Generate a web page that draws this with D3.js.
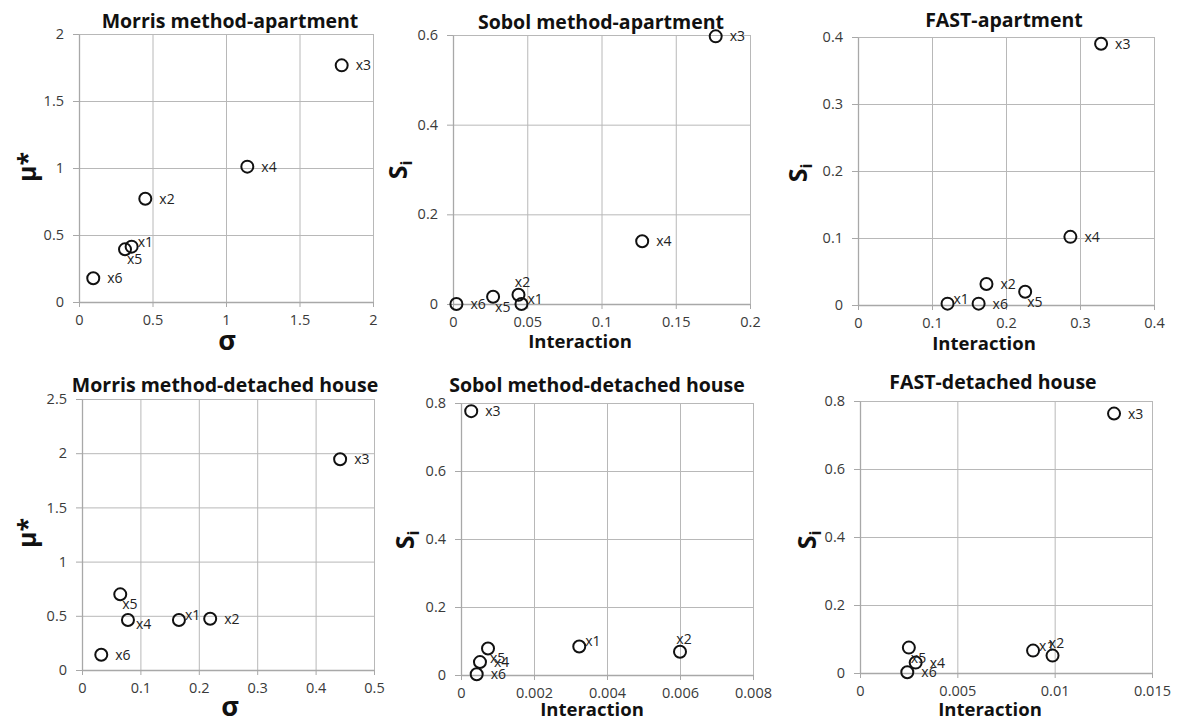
<!DOCTYPE html>
<html>
<head>
<meta charset="utf-8">
<script src="https://cdn.jsdelivr.net/npm/d3@7/dist/d3.min.js"></script>
<style>
  body { margin: 0; background: #fff; }
  svg text { font-family: "Open Sans", "DejaVu Sans", sans-serif; }
</style>
</head>
<body>
<svg id="chart" width="1177" height="724"></svg>
<script>
// variable names (same order in every panel)
const varNames = ["x1", "x2", "x3", "x4", "x5", "x6"];

// Morris method - apartment
const morrisAptSigma = [0.358, 0.451, 1.787, 1.145, 0.313, 0.097];
const morrisAptMu    = [0.413, 0.771, 1.766, 1.01, 0.393, 0.177];
// Sobol method - apartment
const sobolAptInter = [0.0461, 0.0441, 0.1769, 0.1274, 0.027, 0.0023];
const sobolAptSi    = [0.0, 0.0207, 0.597, 0.140, 0.0163, 0.0];
// FAST - apartment
const fastAptInter = [0.121, 0.1736, 0.3285, 0.287, 0.2259, 0.163];
const fastAptSi    = [0.002, 0.0313, 0.390, 0.1017, 0.0198, 0.002];
// Morris method - detached house
const morrisDetSigma = [0.166, 0.2195, 0.442, 0.0787, 0.0655, 0.033];
const morrisDetMu    = [0.461, 0.473, 1.944, 0.461, 0.698, 0.141];
// Sobol method - detached house
const sobolDetInter = [0.00324, 0.0060, 0.00028, 0.00052, 0.00074, 0.00043];
const sobolDetSi    = [0.084, 0.0685, 0.776, 0.038, 0.078, 0.002];
// FAST - detached house
const fastDetInter = [0.00889, 0.00989, 0.01305, 0.00286, 0.00251, 0.00243];
const fastDetSi    = [0.0659, 0.0512, 0.763, 0.0306, 0.0747, 0.002];

// tick values
const morrisAptTicksX = [0, 0.5, 1, 1.5, 2];
const morrisAptTicksY = [0, 0.5, 1, 1.5, 2];
const sobolAptTicksX = [0, 0.05, 0.1, 0.15, 0.2];
const sobolAptTicksY = [0, 0.2, 0.4, 0.6];
const fastAptTicksX = [0, 0.1, 0.2, 0.3, 0.4];
const fastAptTicksY = [0, 0.1, 0.2, 0.3, 0.4];
const morrisDetTicksX = [0, 0.1, 0.2, 0.3, 0.4, 0.5];
const morrisDetTicksY = [0, 0.5, 1, 1.5, 2, 2.5];
const sobolDetTicksX = [0, 0.002, 0.004, 0.006, 0.008];
const sobolDetTicksY = [0, 0.2, 0.4, 0.6, 0.8];
const fastDetTicksX = [0, 0.005, 0.01, 0.015];
const fastDetTicksY = [0, 0.2, 0.4, 0.6, 0.8];

// where each point label sits relative to its marker
const spots = {
  r:  {dx: 14, dy: 5,  anchor: "start"},
  ur: {dx: 6,  dy: 0,  anchor: "start"},
  br: {dx: 2,  dy: 15, anchor: "start"},
  t:  {dx: 4,  dy: -8, anchor: "middle"},
  rr: {dx: 8,  dy: 9,  anchor: "start"}
};

const panels = [
  {title: "Morris method-apartment", xs: morrisAptSigma, ys: morrisAptMu,
   tx: morrisAptTicksX, ty: morrisAptTicksY, xLabel: "σ", yLabel: "mu",
   box: [79, 34, 373, 302], titleAt: [230, 28], xLabAt: [227, 350], yLabAt: [27, 167],
   labels: ["ur", "r", "r", "r", "br", "r"]},
  {title: "Sobol method-apartment", xs: sobolAptInter, ys: sobolAptSi,
   tx: sobolAptTicksX, ty: sobolAptTicksY, xLabel: "Interaction", yLabel: "si",
   box: [453, 35, 750, 304], titleAt: [601, 29], xLabAt: [580, 348], yLabAt: [398, 170],
   labels: ["ur", "t", "r", "r", "br", "r"]},
  {title: "FAST-apartment", xs: fastAptInter, ys: fastAptSi,
   tx: fastAptTicksX, ty: fastAptTicksY, xLabel: "Interaction", yLabel: "si",
   box: [858, 37, 1154, 305], titleAt: [1004, 27], xLabAt: [984, 350], yLabAt: [798, 173],
   labels: ["ur", "r", "r", "r", "br", "r"]},
  {title: "Morris method-detached house", xs: morrisDetSigma, ys: morrisDetMu,
   tx: morrisDetTicksX, ty: morrisDetTicksY, xLabel: "σ", yLabel: "mu",
   box: [82, 399, 374, 670], titleAt: [225, 392], xLabAt: [230, 716], yLabAt: [27, 533],
   labels: ["ur", "r", "r", "rr", "br", "r"]},
  {title: "Sobol method-detached house", xs: sobolDetInter, ys: sobolDetSi,
   tx: sobolDetTicksX, ty: sobolDetTicksY, xLabel: "Interaction", yLabel: "si",
   box: [461, 403, 753, 675], titleAt: [597, 392], xLabAt: [592, 716], yLabAt: [405, 540],
   labels: ["ur", "t", "r", "r", "br", "r"]},
  {title: "FAST-detached house", xs: fastDetInter, ys: fastDetSi,
   tx: fastDetTicksX, ty: fastDetTicksY, xLabel: "Interaction", yLabel: "si",
   box: [860, 401, 1152, 673], titleAt: [993, 389], xLabAt: [990, 716], yLabAt: [807, 540],
   labels: ["ur", "t", "r", "r", "br", "r"]}
];

const svg = d3.select("#chart");
const gridColor = "#b8b8b8";
const fmt = d => String(d);

panels.forEach(p => {
  const [x0, y0, x1, y1] = p.box;
  const x = d3.scaleLinear().domain(d3.extent(p.tx)).range([x0, x1]);
  const y = d3.scaleLinear().domain(d3.extent(p.ty)).range([y1, y0]);
  const g = svg.append("g");

  // gridlines
  g.append("g").attr("transform", `translate(0,${y1})`)
    .call(d3.axisBottom(x).tickValues(p.tx).tickSize(-(y1 - y0)).tickFormat(""))
    .call(a => a.select(".domain").remove())
    .selectAll("line").attr("stroke", gridColor);
  g.append("g").attr("transform", `translate(${x0},0)`)
    .call(d3.axisLeft(y).tickValues(p.ty).tickSize(-(x1 - x0)).tickFormat(""))
    .call(a => a.select(".domain").remove())
    .selectAll("line").attr("stroke", gridColor);

  // axes with short outer ticks
  const xa = g.append("g").attr("transform", `translate(0,${y1})`)
    .call(d3.axisBottom(x).tickValues(p.tx).tickSize(5).tickSizeOuter(0).tickPadding(8).tickFormat(fmt));
  const ya = g.append("g").attr("transform", `translate(${x0},0)`)
    .call(d3.axisLeft(y).tickValues(p.ty).tickSize(6).tickSizeOuter(0).tickPadding(9).tickFormat(fmt));
  [xa, ya].forEach(a => {
    a.select(".domain").attr("stroke", "#a8a8a8").attr("stroke-width", 1.3);
    a.selectAll("line").attr("stroke", "#a8a8a8");
    a.selectAll("text").attr("fill", "#3a3a3a").style("font-size", "14.5px");
  });

  // title
  g.append("text").attr("x", p.titleAt[0]).attr("y", p.titleAt[1])
    .attr("text-anchor", "middle").style("font-size", "19.5px").style("font-weight", "bold")
    .attr("fill", "#111").text(p.title);

  // x axis title
  g.append("text").attr("x", p.xLabAt[0]).attr("y", p.xLabAt[1])
    .attr("text-anchor", "middle").style("font-weight", "bold").attr("fill", "#111")
    .style("font-size", p.xLabel === "σ" ? "27px" : "18.5px").text(p.xLabel);

  // y axis title
  const yt = g.append("text")
    .attr("transform", `translate(${p.yLabAt[0]},${p.yLabAt[1]}) rotate(-90)`)
    .attr("text-anchor", "middle").attr("dy", "0.35em")
    .style("font-weight", "bold").attr("fill", "#111");
  if (p.yLabel === "mu") {
    yt.style("font-size", "25px").text("μ*");
  } else {
    yt.style("font-size", "25px");
    yt.append("tspan").text("S");
    yt.append("tspan").attr("dy", "0.3em").style("font-size", "16px").text("i");
  }

  // points
  const pts = varNames.map((n, i) => ({name: n, x: p.xs[i], y: p.ys[i], spot: spots[p.labels[i]]}));
  g.selectAll("circle").data(pts).enter().append("circle")
    .attr("cx", d => x(d.x)).attr("cy", d => y(d.y)).attr("r", 6)
    .attr("fill", "none").attr("stroke", "#111").attr("stroke-width", 2);
  g.selectAll("text.lbl").data(pts).enter().append("text").attr("class", "lbl")
    .attr("x", d => x(d.x) + d.spot.dx).attr("y", d => y(d.y) + d.spot.dy)
    .attr("text-anchor", d => d.spot.anchor)
    .style("font-size", "14px").attr("fill", "#222").text(d => d.name);
});
</script>
</body>
</html>
